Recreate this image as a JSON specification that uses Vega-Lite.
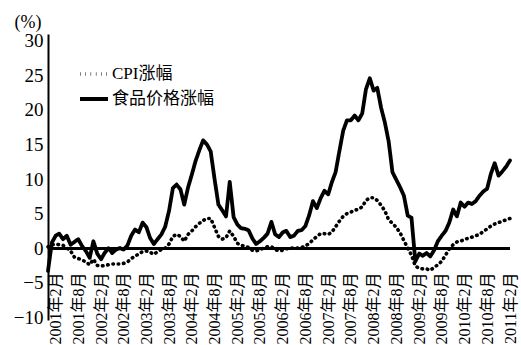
{
  "$schema": "https://vega.github.io/schema/vega-lite/v6.json",
  "width": 462,
  "height": 286,
  "autosize": {"type": "none"},
  "padding": {"left": 48, "top": 34, "right": 11, "bottom": 25},
  "background": "white",
  "config": {"view": {"stroke": null}, "axis": {"labelOverlap": false}},
  "data": {"values": [
    {"d":"2000/12/01","cpi":0.2,"food":-3.3},
    {"d":"2001/01/01","cpi":0.5,"food":0.8},
    {"d":"2001/02/01","cpi":0.6,"food":1.8},
    {"d":"2001/03/01","cpi":0.5,"food":2.1},
    {"d":"2001/04/01","cpi":0.4,"food":1.3},
    {"d":"2001/05/01","cpi":0.0,"food":1.8},
    {"d":"2001/06/01","cpi":-0.4,"food":0.5},
    {"d":"2001/07/01","cpi":-1.3,"food":0.9},
    {"d":"2001/08/01","cpi":-1.5,"food":1.3},
    {"d":"2001/09/01","cpi":-1.7,"food":0.3},
    {"d":"2001/10/01","cpi":-2.0,"food":-0.4},
    {"d":"2001/11/01","cpi":-2.4,"food":-1.4},
    {"d":"2001/12/01","cpi":-1.6,"food":1.0},
    {"d":"2002/01/01","cpi":-2.5,"food":-0.8},
    {"d":"2002/02/01","cpi":-2.6,"food":-1.6},
    {"d":"2002/03/01","cpi":-2.5,"food":-0.7},
    {"d":"2002/04/01","cpi":-2.4,"food":0.0},
    {"d":"2002/05/01","cpi":-2.3,"food":-0.7},
    {"d":"2002/06/01","cpi":-2.3,"food":-0.2},
    {"d":"2002/07/01","cpi":-2.3,"food":0.0},
    {"d":"2002/08/01","cpi":-2.2,"food":-0.2},
    {"d":"2002/09/01","cpi":-2.0,"food":0.4},
    {"d":"2002/10/01","cpi":-1.5,"food":1.8},
    {"d":"2002/11/01","cpi":-1.2,"food":2.7},
    {"d":"2002/12/01","cpi":-0.8,"food":2.3},
    {"d":"2003/01/01","cpi":-0.5,"food":3.7},
    {"d":"2003/02/01","cpi":-0.4,"food":3.0},
    {"d":"2003/03/01","cpi":-0.6,"food":1.5},
    {"d":"2003/04/01","cpi":-0.9,"food":0.6},
    {"d":"2003/05/01","cpi":-0.5,"food":1.3},
    {"d":"2003/06/01","cpi":-0.2,"food":2.0},
    {"d":"2003/07/01","cpi":0.0,"food":3.1},
    {"d":"2003/08/01","cpi":0.6,"food":5.4},
    {"d":"2003/09/01","cpi":1.7,"food":8.7},
    {"d":"2003/10/01","cpi":2.0,"food":9.2},
    {"d":"2003/11/01","cpi":1.7,"food":8.5},
    {"d":"2003/12/01","cpi":1.0,"food":6.3},
    {"d":"2004/01/01","cpi":2.0,"food":8.8},
    {"d":"2004/02/01","cpi":2.5,"food":10.7},
    {"d":"2004/03/01","cpi":3.1,"food":12.6},
    {"d":"2004/04/01","cpi":3.6,"food":14.2},
    {"d":"2004/05/01","cpi":4.0,"food":15.6},
    {"d":"2004/06/01","cpi":4.3,"food":15.0},
    {"d":"2004/07/01","cpi":4.3,"food":14.0},
    {"d":"2004/08/01","cpi":3.0,"food":10.0},
    {"d":"2004/09/01","cpi":1.7,"food":6.3},
    {"d":"2004/10/01","cpi":1.3,"food":5.5},
    {"d":"2004/11/01","cpi":1.5,"food":4.6},
    {"d":"2004/12/01","cpi":2.5,"food":9.6},
    {"d":"2005/01/01","cpi":1.7,"food":4.5},
    {"d":"2005/02/01","cpi":0.7,"food":3.4},
    {"d":"2005/03/01","cpi":0.4,"food":2.9},
    {"d":"2005/04/01","cpi":0.3,"food":2.8},
    {"d":"2005/05/01","cpi":0.1,"food":2.6},
    {"d":"2005/06/01","cpi":-0.3,"food":1.4},
    {"d":"2005/07/01","cpi":-0.4,"food":0.6},
    {"d":"2005/08/01","cpi":-0.2,"food":1.0},
    {"d":"2005/09/01","cpi":0.0,"food":1.5},
    {"d":"2005/10/01","cpi":0.2,"food":2.1},
    {"d":"2005/11/01","cpi":0.2,"food":3.8},
    {"d":"2005/12/01","cpi":-0.2,"food":2.0},
    {"d":"2006/01/01","cpi":-0.4,"food":1.6},
    {"d":"2006/02/01","cpi":-0.3,"food":2.3},
    {"d":"2006/03/01","cpi":-0.1,"food":2.5},
    {"d":"2006/04/01","cpi":0.0,"food":1.6},
    {"d":"2006/05/01","cpi":0.0,"food":1.8},
    {"d":"2006/06/01","cpi":0.0,"food":2.5},
    {"d":"2006/07/01","cpi":0.1,"food":2.6},
    {"d":"2006/08/01","cpi":0.3,"food":3.2},
    {"d":"2006/09/01","cpi":0.7,"food":4.8},
    {"d":"2006/10/01","cpi":1.2,"food":6.8},
    {"d":"2006/11/01","cpi":1.7,"food":5.8},
    {"d":"2006/12/01","cpi":2.1,"food":7.2},
    {"d":"2007/01/01","cpi":2.1,"food":8.3},
    {"d":"2007/02/01","cpi":2.0,"food":7.8},
    {"d":"2007/03/01","cpi":2.3,"food":9.5},
    {"d":"2007/04/01","cpi":3.1,"food":11.0},
    {"d":"2007/05/01","cpi":3.9,"food":14.0},
    {"d":"2007/06/01","cpi":4.6,"food":17.0},
    {"d":"2007/07/01","cpi":5.0,"food":18.5},
    {"d":"2007/08/01","cpi":5.2,"food":18.5},
    {"d":"2007/09/01","cpi":5.5,"food":19.2},
    {"d":"2007/10/01","cpi":5.6,"food":18.5},
    {"d":"2007/11/01","cpi":6.0,"food":19.5},
    {"d":"2007/12/01","cpi":6.9,"food":23.0},
    {"d":"2008/01/01","cpi":7.3,"food":24.6},
    {"d":"2008/02/01","cpi":7.3,"food":22.8},
    {"d":"2008/03/01","cpi":6.9,"food":23.2},
    {"d":"2008/04/01","cpi":6.2,"food":20.3},
    {"d":"2008/05/01","cpi":5.4,"food":18.2},
    {"d":"2008/06/01","cpi":4.1,"food":15.4},
    {"d":"2008/07/01","cpi":3.6,"food":11.0},
    {"d":"2008/08/01","cpi":3.0,"food":9.9},
    {"d":"2008/09/01","cpi":2.2,"food":8.8},
    {"d":"2008/10/01","cpi":1.1,"food":7.6},
    {"d":"2008/11/01","cpi":0.0,"food":4.7},
    {"d":"2008/12/01","cpi":-1.0,"food":4.4},
    {"d":"2009/01/01","cpi":-2.6,"food":-1.9},
    {"d":"2009/02/01","cpi":-2.9,"food":-0.8},
    {"d":"2009/03/01","cpi":-3.0,"food":-1.1},
    {"d":"2009/04/01","cpi":-3.0,"food":-0.7},
    {"d":"2009/05/01","cpi":-3.2,"food":-1.2},
    {"d":"2009/06/01","cpi":-2.8,"food":-0.3},
    {"d":"2009/07/01","cpi":-2.4,"food":1.0},
    {"d":"2009/08/01","cpi":-1.9,"food":1.8},
    {"d":"2009/09/01","cpi":-1.0,"food":2.5},
    {"d":"2009/10/01","cpi":-0.1,"food":3.7},
    {"d":"2009/11/01","cpi":0.5,"food":5.6},
    {"d":"2009/12/01","cpi":0.9,"food":4.6},
    {"d":"2010/01/01","cpi":1.0,"food":6.6},
    {"d":"2010/02/01","cpi":1.3,"food":6.0},
    {"d":"2010/03/01","cpi":1.4,"food":6.6},
    {"d":"2010/04/01","cpi":1.6,"food":6.4},
    {"d":"2010/05/01","cpi":1.8,"food":6.8},
    {"d":"2010/06/01","cpi":2.0,"food":7.6},
    {"d":"2010/07/01","cpi":2.4,"food":8.2},
    {"d":"2010/08/01","cpi":2.8,"food":8.6},
    {"d":"2010/09/01","cpi":3.2,"food":10.8},
    {"d":"2010/10/01","cpi":3.5,"food":12.3},
    {"d":"2010/11/01","cpi":3.7,"food":10.5},
    {"d":"2010/12/01","cpi":3.9,"food":11.1},
    {"d":"2011/01/01","cpi":4.1,"food":11.8},
    {"d":"2011/02/01","cpi":4.3,"food":12.7}
  ]},
  "transform": [{"fold": ["cpi", "food"], "as": ["series", "value"]}],
  "encoding": {
    "y": {
      "field": "value", "type": "quantitative",
      "scale": {"domain": [-10.4, 31], "nice": false, "zero": false},
      "axis": {
        "title": "(%)",
        "titleAngle": 0,
        "titleAlign": "left",
        "titleBaseline": "alphabetic",
        "titleX": -34,
        "titleY": -7,
        "titleFont": "Liberation Serif",
        "titleFontSize": 18,
        "titleFontWeight": "normal",
        "titleColor": "black",
        "values": [-10, -5, 0, 5, 10, 15, 20, 25, 30],
        "tickCount": 9,
        "labelOverlap": false,
        "grid": false,
        "ticks": false,
        "domainColor": "black",
        "domainWidth": 2,
        "labelFont": "Liberation Serif",
        "labelFontSize": 19,
        "labelColor": "black",
        "labelPadding": 5
      }
    }
  },
  "layer": [
    {
      "mark": {"type": "line", "strokeCap": "round", "strokeJoin": "round", "color": "black"},
      "encoding": {
        "x": {
          "field": "d", "type": "temporal",
          "scale": {"domain": [{"year": 2000, "month": 12, "date": 1}, {"year": 2011, "month": 2, "date": 1}], "nice": false},
          "axis": {
            "title": null,
            "domain": false,
            "ticks": false,
            "grid": false,
            "offset": -48,
            "labelPadding": 0,
            "labelAngle": -90,
            "labelAlign": "right",
            "labelBaseline": "middle",
            "labelOverlap": false,
            "labelBound": false,
            "labelFlush": false,
            "labelFont": "Liberation Serif, Noto Sans CJK SC",
            "labelFontSize": 16,
            "labelColor": "black",
            "values": [
              {"year": 2001, "month": 2, "date": 1}, {"year": 2001, "month": 8, "date": 1},
              {"year": 2002, "month": 2, "date": 1}, {"year": 2002, "month": 8, "date": 1},
              {"year": 2003, "month": 2, "date": 1}, {"year": 2003, "month": 8, "date": 1},
              {"year": 2004, "month": 2, "date": 1}, {"year": 2004, "month": 8, "date": 1},
              {"year": 2005, "month": 2, "date": 1}, {"year": 2005, "month": 8, "date": 1},
              {"year": 2006, "month": 2, "date": 1}, {"year": 2006, "month": 8, "date": 1},
              {"year": 2007, "month": 2, "date": 1}, {"year": 2007, "month": 8, "date": 1},
              {"year": 2008, "month": 2, "date": 1}, {"year": 2008, "month": 8, "date": 1},
              {"year": 2009, "month": 2, "date": 1}, {"year": 2009, "month": 8, "date": 1},
              {"year": 2010, "month": 2, "date": 1}, {"year": 2010, "month": 8, "date": 1},
              {"year": 2011, "month": 2, "date": 1}
            ],
            "labelExpr": "timeFormat(datum.value, '%Y年%-m月')"
          }
        },
        "strokeDash": {
          "field": "series", "type": "nominal",
          "scale": {"domain": ["cpi", "food"], "range": [[0.5, 4.8], [1, 0]]},
          "legend": {
            "title": null,
            "orient": "none",
            "legendX": 30,
            "legendY": 24,
            "symbolType": "stroke",
            "symbolSize": 784,
            "symbolStrokeWidth": 3.5,
            "symbolStrokeColor": "black",
            "labelFont": "Liberation Serif, Noto Sans CJK SC",
            "labelFontSize": 17,
            "labelColor": "black",
            "labelOffset": 2,
            "rowPadding": 1,
            "labelExpr": "datum.value == 'cpi' ? 'CPI涨幅' : '食品价格涨幅'"
          }
        },
        "strokeWidth": {
          "field": "series", "type": "nominal",
          "scale": {"domain": ["cpi", "food"], "range": [3.6, 3.8]},
          "legend": null
        }
      }
    },
    {
      "mark": {"type": "rule", "color": "black", "strokeWidth": 2},
      "encoding": {"y": {"datum": 0}}
    }
  ]
}
